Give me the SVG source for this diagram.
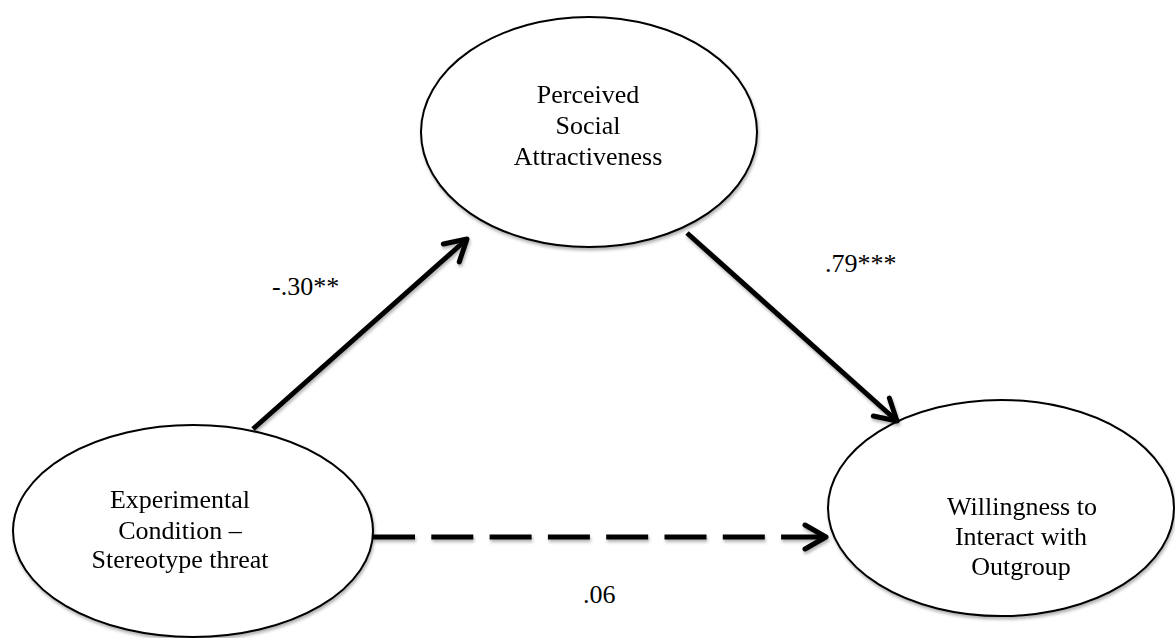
<svg xmlns="http://www.w3.org/2000/svg" width="1175" height="638" viewBox="0 0 1175 638">
  <defs>
    <filter id="shadow" x="-10%" y="-10%" width="120%" height="130%">
      <feDropShadow dx="1" dy="2.5" stdDeviation="1.6" flood-color="#000" flood-opacity="0.3"/>
    </filter>
    <marker id="head" viewBox="-26 -15 30 30" markerWidth="30" markerHeight="30" refX="0" refY="0" orient="auto" markerUnits="userSpaceOnUse">
      <path d="M-21,-12 L0,0 L-21,12" fill="none" stroke="#000" stroke-width="5" stroke-linecap="round" stroke-linejoin="round"/>
    </marker>
    <style>
      .node ellipse { fill: #fff; stroke: #000; stroke-width: 2; }
      .lbl { font-family: "Liberation Serif", "Times New Roman", serif; font-size: 26px; fill: #000; }
      .mid { text-anchor: middle; }
      .path { fill: none; stroke: #000; stroke-width: 5; stroke-linecap: butt; }
    </style>
  </defs>
  <rect width="1175" height="638" fill="#fff"/>

  <!-- nodes -->
  <g id="node-attractiveness" class="node" filter="url(#shadow)">
    <ellipse cx="589" cy="132" rx="168" ry="115"/>
    <text class="lbl mid" x="588" y="103">Perceived</text>
    <text class="lbl mid" x="588" y="134">Social</text>
    <text class="lbl mid" x="588" y="165">Attractiveness</text>
  </g>
  <g id="node-condition" class="node" filter="url(#shadow)">
    <ellipse cx="193" cy="531" rx="180" ry="106"/>
    <text class="lbl mid" x="180" y="508">Experimental</text>
    <text class="lbl mid" x="180" y="539">Condition –</text>
    <text class="lbl mid" x="180" y="568">Stereotype threat</text>
  </g>
  <g id="node-willingness" class="node" filter="url(#shadow)">
    <ellipse cx="1001" cy="508" rx="173" ry="108"/>
    <text class="lbl mid" x="1022" y="515">Willingness to</text>
    <text class="lbl mid" x="1021" y="545">Interact with</text>
    <text class="lbl mid" x="1021" y="575">Outgroup</text>
  </g>

  <!-- connectors -->
  <g id="connectors" filter="url(#shadow)">
    <line class="path" x1="253" y1="429" x2="467" y2="239" marker-end="url(#head)"/>
    <line class="path" x1="687" y1="233" x2="897" y2="421" marker-end="url(#head)"/>
    <line class="path" x1="373" y1="537" x2="826" y2="537" stroke-dasharray="42 16.3" marker-end="url(#head)"/>
  </g>

  <!-- path coefficients -->
  <g id="labels">
    <text class="lbl" x="272" y="295">-.30**</text>
    <text class="lbl" x="825" y="272">.79***</text>
    <text class="lbl" x="583" y="603">.06</text>
  </g>
</svg>
